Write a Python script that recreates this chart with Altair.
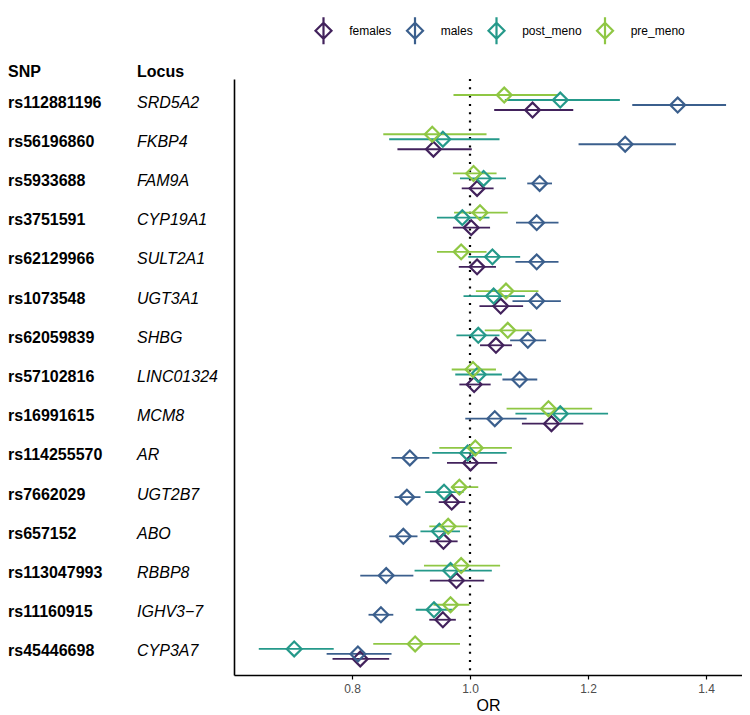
import altair as alt
import pandas as pd

snps = ["rs112881196", "rs56196860", "rs5933688", "rs3751591", "rs62129966",
        "rs1073548", "rs62059839", "rs57102816", "rs16991615", "rs114255570",
        "rs7662029", "rs657152", "rs113047993", "rs11160915", "rs45446698"]
loci = ["SRD5A2", "FKBP4", "FAM9A", "CYP19A1", "SULT2A1", "UGT3A1", "SHBG",
        "LINC01324", "MCM8", "AR", "UGT2B7", "ABO", "RBBP8", "IGHV3\u22127", "CYP3A7"]

groups = ["females", "males", "post_meno", "pre_meno"]
colors = ["#42225c", "#3b5f8d", "#25998a", "#8fc744"]

females_or = [1.106, 0.938, 1.012, 1.002, 1.012, 1.052, 1.044, 1.007, 1.138, 1.001, 0.969, 0.955, 0.977, 0.954, 0.814]
females_lo = [1.041, 0.877, 0.986, 0.971, 0.981, 1.016, 1.017, 0.982, 1.088, 0.961, 0.947, 0.932, 0.932, 0.931, 0.767]
females_hi = [1.175, 1.003, 1.040, 1.034, 1.044, 1.090, 1.071, 1.035, 1.192, 1.046, 0.992, 0.979, 1.024, 0.976, 0.863]

males_or = [1.352, 1.263, 1.118, 1.113, 1.113, 1.113, 1.098, 1.084, 1.042, 0.898, 0.893, 0.887, 0.858, 0.849, 0.810]
males_lo = [1.275, 1.184, 1.097, 1.078, 1.077, 1.072, 1.068, 1.055, 0.992, 0.867, 0.872, 0.863, 0.814, 0.828, 0.757]
males_hi = [1.434, 1.349, 1.139, 1.150, 1.150, 1.154, 1.129, 1.114, 1.096, 0.931, 0.916, 0.911, 0.904, 0.870, 0.867]

post_or = [1.153, 0.954, 1.023, 0.987, 1.038, 1.040, 1.014, 1.014, 1.153, 0.996, 0.956, 0.948, 0.967, 0.939, 0.702]
post_lo = [1.059, 0.863, 0.983, 0.944, 0.997, 0.989, 0.977, 0.975, 1.077, 0.936, 0.924, 0.916, 0.906, 0.908, 0.642]
post_hi = [1.254, 1.050, 1.061, 1.033, 1.085, 1.093, 1.050, 1.054, 1.234, 1.062, 0.989, 0.983, 1.037, 0.970, 0.769]

pre_or = [1.058, 0.936, 1.006, 1.017, 0.985, 1.061, 1.064, 1.005, 1.133, 1.009, 0.982, 0.963, 0.985, 0.967, 0.907]
pre_lo = [0.972, 0.853, 0.971, 0.973, 0.944, 1.010, 1.025, 0.969, 1.062, 0.948, 0.969, 0.931, 0.922, 0.938, 0.836]
pre_hi = [1.150, 1.028, 1.045, 1.064, 1.028, 1.116, 1.105, 1.044, 1.207, 1.071, 1.014, 0.996, 1.051, 0.999, 0.983]

x_ticks = [0.8, 1.0, 1.2, 1.4]

series = {
    "females": (females_or, females_lo, females_hi),
    "males": (males_or, males_lo, males_hi),
    "post_meno": (post_or, post_lo, post_hi),
    "pre_meno": (pre_or, pre_lo, pre_hi),
}
rows = []
for g in groups:
    ors, los, his = series[g]
    for s, l, o, lo, hi in zip(snps, loci, ors, los, his):
        rows.append({"SNP": s, "Locus": l, "group": g, "OR": o, "lo": lo, "hi": hi})
df = pd.DataFrame(rows)
labels_df = pd.DataFrame({"SNP": snps, "Locus": loci})

FONT = "Liberation Sans"

yenc = alt.Y("SNP:N", sort=snps,
             scale=alt.Scale(paddingInner=0, paddingOuter=0.1),
             axis=alt.Axis(labels=False, ticks=False, title=None, grid=False,
                           domainColor="black", domainWidth=1.6))
yoff = alt.YOffset("group:N", sort=["pre_meno", "post_meno", "males", "females"],
                   scale=alt.Scale(paddingInner=0, paddingOuter=0, range=[9.6, 29.6]))
xscale = alt.Scale(domain=[0.6, 1.461], nice=False, zero=False)
xaxis = alt.Axis(values=x_ticks, format=".1f", title="OR", titleFontSize=16,
                 titleFontWeight="normal", titleColor="black", titleFont=FONT,
                 labelColor="#4d4d4d", labelFontSize=12, labelFont=FONT,
                 tickColor="black", tickSize=4, tickWidth=1.2,
                 domainColor="black", domainWidth=1.6, grid=False,
                 labelPadding=4, titlePadding=3)
cscale = alt.Scale(domain=groups, range=colors)

legend_path = "M-1,0L0,-1L1,0L0,1Z M0,-1.7L0,1.7"
legend = alt.Legend(title=None, orient="none", direction="horizontal",
                    legendX=80, legendY=-58, padding=0,
                    symbolType=legend_path, symbolSize=256,
                    symbolStrokeWidth=2.2, symbolFillColor="transparent",
                    labelOffset=16.2, columnPadding=10.5, labelFontSize=12,
                    labelFont=FONT, labelColor="black")

rules = alt.Chart(df).mark_rule(strokeWidth=1.8).encode(
    x=alt.X("lo:Q", scale=xscale, axis=xaxis),
    x2="hi:Q",
    y=yenc,
    yOffset=yoff,
    color=alt.Color("group:N", scale=cscale, legend=legend),
)

points = alt.Chart(df).mark_point(shape="diamond", filled=False, size=220,
                                  strokeWidth=2.2, opacity=1).encode(
    x=alt.X("OR:Q", scale=xscale, axis=xaxis),
    y=yenc,
    yOffset=yoff,
    color=alt.Color("group:N", scale=cscale, legend=legend),
)

vline = alt.Chart(pd.DataFrame({"ref": [1.0]})).mark_rule(
    color="black", strokeDash=[2, 6.3], strokeWidth=2.2
).encode(x=alt.X("ref:Q", scale=xscale, axis=xaxis))

snp_text = alt.Chart(labels_df).mark_text(
    align="left", baseline="middle", fontWeight="bold", fontSize=16, font=FONT, color="black"
).encode(y=yenc, x=alt.value(-226), text="SNP:N")

locus_text = alt.Chart(labels_df).mark_text(
    align="left", baseline="middle", fontStyle="italic", fontSize=16, font=FONT, color="black"
).encode(y=yenc, x=alt.value(-97), text="Locus:N")

snp_head = alt.Chart(pd.DataFrame({"h": ["SNP"]})).mark_text(
    align="left", baseline="middle", fontWeight="bold", fontSize=16, font=FONT, color="black"
).encode(x=alt.value(-226), y=alt.value(-7), text="h:N")

locus_head = alt.Chart(pd.DataFrame({"h": ["Locus"]})).mark_text(
    align="left", baseline="middle", fontWeight="bold", fontSize=16, font=FONT, color="black"
).encode(x=alt.value(-97), y=alt.value(-7), text="h:N")

chart = alt.layer(vline, rules, points, snp_text, locus_text, snp_head, locus_head).properties(
    width=508, height=596,
    padding={"left": 226, "top": 71, "right": 0, "bottom": 39},
    autosize=alt.AutoSizeParams(type="none"),
).configure(font=FONT, view=alt.ViewConfig(stroke=None))

chart.save("out.html", embed_options={"renderer": "svg", "actions": False})
